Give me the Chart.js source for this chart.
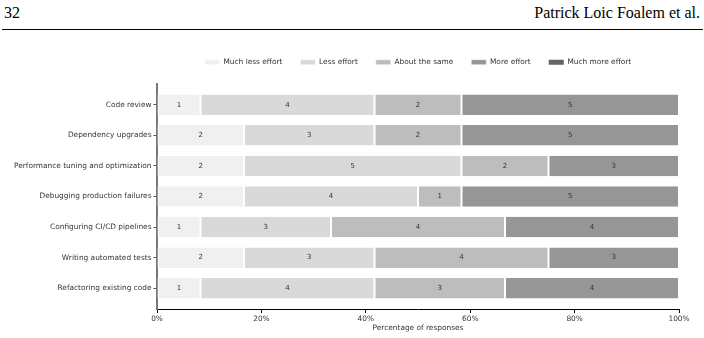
<!DOCTYPE html>
<html>
<head>
<meta charset="utf-8">
<script src="https://cdn.jsdelivr.net/npm/chart.js@4"></script>
<style>
  html, body { margin: 0; padding: 0; background: #fff; }
  body { width: 704px; height: 338px; position: relative; overflow: hidden; }
  .hdr { position: absolute; font-family: "Liberation Serif", serif; font-size: 16px; color: #000; line-height: 1; }
  #pg { left: 4px; top: 5px; }
  #auth { right: 4px; top: 5px; }
  #rule { position: absolute; left: 2px; right: 1px; top: 29px; height: 1px; background: #000; }
  #wrap { position: absolute; left: 0; top: 0; width: 704px; height: 338px; }
</style>
</head>
<body>
<div class="hdr" id="pg">32</div>
<div class="hdr" id="auth">Patrick Loic Foalem et al.</div>
<div id="rule"></div>
<div id="wrap"><canvas id="c" width="704" height="338"></canvas></div>
<script>
// ---- data ----
const categories = [
  "Code review",
  "Dependency upgrades",
  "Performance tuning and optimization",
  "Debugging production failures",
  "Configuring CI/CD pipelines",
  "Writing automated tests",
  "Refactoring existing code"
];
const seriesNames = ["Much less effort", "Less effort", "About the same", "More effort", "Much more effort"];
const muchLess  = [1, 2, 2, 2, 1, 2, 1];
const less      = [4, 3, 5, 4, 3, 3, 4];
const aboutSame = [2, 2, 2, 1, 4, 4, 3];
const more      = [5, 5, 3, 5, 4, 3, 4];
const muchMore  = [0, 0, 0, 0, 0, 0, 0];
const xTicks = [0, 20, 40, 60, 80, 100];
const colors = ["#f0f0f0", "#d9d9d9", "#bdbdbd", "#969696", "#636363"];

const counts = [muchLess, less, aboutSame, more, muchMore];
const totals = categories.map((_, i) => counts.reduce((s, arr) => s + arr[i], 0));

const FONT = "'DejaVu Sans', sans-serif";

const datasets = counts.map((arr, k) => ({
  label: seriesNames[k],
  data: arr.map((v, i) => ({ x: v / totals[i] * 100, y: i, n: v })),
  backgroundColor: colors[k],
  borderColor: "#ffffff",
  borderWidth: arr.some(v => v > 0) ? { left: 1, right: 1, top: 0, bottom: 0 } : 0,
  borderSkipped: false,
  grouped: false,
  barPercentage: 0.67,
  categoryPercentage: 1.0
}));

const countLabels = {
  id: "countLabels",
  afterDatasetsDraw(chart) {
    const ctx = chart.ctx;
    ctx.save();
    ctx.font = "7px " + FONT;
    ctx.fillStyle = "#333333";
    ctx.textAlign = "center";
    ctx.textBaseline = "middle";
    chart.data.datasets.forEach((ds, k) => {
      const meta = chart.getDatasetMeta(k);
      meta.data.forEach((el, i) => {
        const n = ds.data[i].n;
        if (n > 0) {
          const p = el.getCenterPoint();
          ctx.fillText(String(n), p.x, p.y);
        }
      });
    });
    ctx.restore();
  }
};

// add a little space below the legend
const legendGap = {
  id: "legendGap",
  beforeUpdate(chart) {
    const lg = chart.legend;
    if (lg && !lg._gapPatched) {
      const orig = lg.fit.bind(lg);
      lg.fit = function () { orig(); this.height += 7.6; };
      lg._gapPatched = true;
    }
  }
};

new Chart(document.getElementById("c"), {
  type: "bar",
  data: { datasets },
  plugins: [countLabels, legendGap],
  options: {
    indexAxis: "y",
    responsive: false,
    animation: false,
    devicePixelRatio: 1,
    layout: { padding: { left: 0, right: 25, top: 40.5, bottom: 0 } },
    plugins: {
      legend: {
        position: "top",
        fullSize: false,
        labels: {
          boxWidth: 15,
          boxHeight: 5,
          padding: 18,
          color: "#333333",
          font: { family: FONT, size: 7.4 }
        }
      },
      tooltip: { enabled: false }
    },
    scales: {
      x: {
        type: "linear",
        stacked: true,
        min: 0,
        max: 100,
        offset: false,
        afterBuildTicks: s => { s.ticks = xTicks.map(v => ({ value: v })); },
        afterFit: s => { s.height = 28.5; },
        ticks: {
          callback: v => v + "%",
          color: "#333333",
          font: { family: FONT, size: 7.4 },
          padding: 1.5,
          maxRotation: 0
        },
        grid: { offset: false, drawOnChartArea: false, drawTicks: true, tickLength: 3.5, color: "#000000", lineWidth: 1 },
        border: { display: true, color: "#000000", width: 1 },
        title: {
          display: true,
          text: "Percentage of responses",
          color: "#333333",
          font: { family: FONT, size: 7.4 },
          padding: { top: 0, bottom: 5 }
        }
      },
      y: {
        type: "linear",
        reverse: true,
        offset: false,
        min: -0.695,
        max: 6.695,
        afterBuildTicks: s => { s.ticks = categories.map((_, i) => ({ value: i })); },
        afterFit: s => { s.width = 157; },
        ticks: {
          callback: v => categories[v],
          color: "#333333",
          font: { family: FONT, size: 7.4 },
          padding: 2,
          autoSkip: false
        },
        grid: { offset: false, drawOnChartArea: false, drawTicks: true, tickLength: 3.5, color: "#555555", lineWidth: 1 },
        border: { display: true, color: "#777777", width: 2 }
      }
    }
  }
});
</script>
</body>
</html>
